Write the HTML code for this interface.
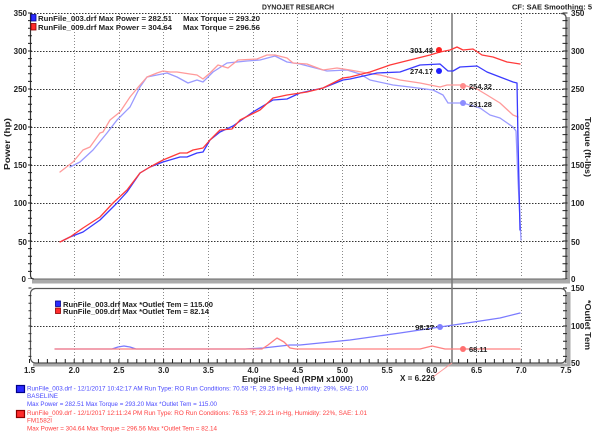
<!DOCTYPE html>
<html><head><meta charset="utf-8"><style>
html,body{margin:0;padding:0;background:#fff;}
svg{display:block;}
text{font-family:"Liberation Sans",Arial,sans-serif;}
.b{font-weight:bold;fill:#222;}
</style></head><body>
<svg width="600" height="433" viewBox="0 0 600 433" xmlns="http://www.w3.org/2000/svg">
<rect width="600" height="433" fill="#fff"/>

<!-- main vertical grid -->
<g stroke="#8a8a8a" stroke-width="1" stroke-dasharray="1,2" fill="none">
<line x1="74.5" y1="14" x2="74.5" y2="278"/>
<line x1="119.5" y1="14" x2="119.5" y2="278"/>
<line x1="163.5" y1="14" x2="163.5" y2="278"/>
<line x1="208.5" y1="14" x2="208.5" y2="278"/>
<line x1="253.5" y1="14" x2="253.5" y2="278"/>
<line x1="297.5" y1="14" x2="297.5" y2="278"/>
<line x1="342.5" y1="14" x2="342.5" y2="278"/>
<line x1="387.5" y1="14" x2="387.5" y2="278"/>
<line x1="431.5" y1="14" x2="431.5" y2="278"/>
<line x1="476.5" y1="14" x2="476.5" y2="278"/>
<line x1="521.5" y1="14" x2="521.5" y2="278"/>
<!-- lower grid -->
<line x1="74.5" y1="289" x2="74.5" y2="361"/>
<line x1="119.5" y1="289" x2="119.5" y2="361"/>
<line x1="163.5" y1="289" x2="163.5" y2="361"/>
<line x1="208.5" y1="289" x2="208.5" y2="361"/>
<line x1="253.5" y1="289" x2="253.5" y2="361"/>
<line x1="297.5" y1="289" x2="297.5" y2="361"/>
<line x1="342.5" y1="289" x2="342.5" y2="361"/>
<line x1="387.5" y1="289" x2="387.5" y2="361"/>
<line x1="431.5" y1="289" x2="431.5" y2="361"/>
<line x1="476.5" y1="289" x2="476.5" y2="361"/>
<line x1="521.5" y1="289" x2="521.5" y2="361"/>
</g>
<g stroke="#333" stroke-width="1" stroke-dasharray="1.5,1.5" fill="none">
<line x1="31" y1="51.5" x2="565" y2="51.5"/>
<line x1="31" y1="89.5" x2="565" y2="89.5"/>
<line x1="31" y1="127.5" x2="565" y2="127.5"/>
<line x1="31" y1="165.5" x2="565" y2="165.5"/>
<line x1="31" y1="203.5" x2="565" y2="203.5"/>
<line x1="31" y1="241.5" x2="565" y2="241.5"/>
<line x1="31" y1="326.5" x2="565" y2="326.5"/>
<line x1="31" y1="13.5" x2="561" y2="13.5"/>
</g>

<!-- main frame -->
<rect x="566" y="17" width="4" height="266" fill="#aaa"/>
<rect x="32" y="279.5" width="538" height="4" fill="#aaa"/>
<path d="M561,13.5 Q566,13.5 566,18 L566,279" stroke="#555" stroke-width="1.3" fill="none"/>
<line x1="34" y1="279" x2="566" y2="279" stroke="#666" stroke-width="1"/>
<path d="M30.5,13 L30.5,275 Q30.5,279 34,279" stroke="#333" stroke-width="1.2" fill="none"/>
<!-- axis ticks -->
<line x1="30" y1="12.5" x2="30" y2="279" stroke="#222" stroke-width="4" stroke-dasharray="1,6.6"/>
<line x1="565" y1="12.5" x2="565" y2="279" stroke="#222" stroke-width="5" stroke-dasharray="1,6.6"/>

<!-- lower frame -->
<rect x="567" y="292" width="3.5" height="74" fill="#aaa"/>
<rect x="33" y="363.5" width="537" height="3" fill="#aaa"/>
<rect x="30.5" y="288.5" width="535.5" height="74.5" rx="5" ry="5" stroke="#555" stroke-width="1.2" fill="none"/>
<line x1="29" y1="361" x2="567" y2="361" stroke="#222" stroke-width="4" stroke-dasharray="1,7.94"/>
<line x1="565" y1="287.5" x2="565" y2="363" stroke="#222" stroke-width="4" stroke-dasharray="1,6.6"/>
<line x1="30" y1="287.5" x2="30" y2="363" stroke="#333" stroke-width="3" stroke-dasharray="1,6.6"/>

<!-- cursor -->
<line x1="452" y1="13" x2="452" y2="363" stroke="#777" stroke-width="1.5"/>
<line x1="433" y1="377" x2="452" y2="363" stroke="#f99" stroke-width="1"/>

<!-- curves -->
<g fill="none" stroke-width="1.3" stroke-linejoin="round" stroke-linecap="round">
<polyline stroke="#9a9aff" points="70,167 80,162 93,150 107,133 117,120 130,107 140,87 147,77 157,75 167,73 177,77 188,83 197,80 203,82 213,72 227,63 247,61 260,60 275,56 287,62 300,64 327,71 347,70 360,74 370,80 393,85 410,87 433,90 443,95 448,103 463,103 480,108 490,115 500,118 513,127 516,131 518,180 521,240"/>
<polyline stroke="#ff9a9a" points="60,172 73,162 83,150 90,147 100,133 103,132 110,120 120,112 130,97 140,85 147,77 157,73 163,71 170,72 177,72 190,74 197,75 203,79 210,73 218,65 228,68 238,60 257,59 267,55 275,55 287,58 293,63 307,64 323,70 337,68 350,70 367,73 380,75 400,80 420,83 440,87 447,85 463,85 477,89 487,95 500,103 513,115 518,117"/>
<polyline stroke="#3a3aff" points="62,241 70,237 83,232 100,220 117,203 127,192 140,173 150,167 163,162 180,157 187,157 197,153 203,152 210,140 220,132 233,126 253,112 273,100 287,99 300,93 323,88 343,80 350,79 377,73 400,72 420,65 440,64 448,71 453,71 460,67 477,66 487,72 500,77 513,82 517,83 518,140 520,230"/>
<polyline stroke="#ff3a3a" points="60,242 70,237 83,228 100,217 113,203 127,190 140,173 150,167 163,160 180,153 187,153 193,150 203,148 210,140 220,130 232,129 240,120 260,110 273,98 287,95 307,92 323,88 343,78 350,77 370,72 390,65 410,60 430,55 440,52 450,50 457,47 463,50 473,49 482,55 493,57 507,62 520,64"/>
<!-- lower -->
<polyline stroke="#7a7aff" points="55,349 112,349 118,347 124,346 130,347 136,349 245,349 263,348 290,345 300,345 350,340 400,333 440,327 467,323 500,318 520,313"/>
<polyline stroke="#ff8080" points="55,349 262,349 268,345 277,338 284,342 290,348 296,349 420,349 432,346 445,349 520,349"/>
</g>

<!-- markers -->
<circle cx="439" cy="50" r="3" fill="#ff2020"/>
<circle cx="439" cy="71" r="3" fill="#2020ff"/>
<circle cx="463" cy="86" r="3" fill="#ff8c8c"/>
<circle cx="463" cy="103" r="3" fill="#8c8cff"/>
<circle cx="440" cy="327" r="3" fill="#8080ff"/>
<circle cx="463" cy="349" r="3" fill="#ff7070"/>
<g class="b" font-size="7.5">
<text x="433" y="53" text-anchor="end">301.48</text>
<text x="433" y="74" text-anchor="end">274.17</text>
<text x="469" y="89">254.32</text>
<text x="469" y="107">231.28</text>
<text x="434" y="330" text-anchor="end">98.27</text>
<text x="469" y="352">68.11</text>
</g>

<!-- titles -->
<text class="b" x="262" y="9.5" font-size="7.5" textLength="72" lengthAdjust="spacingAndGlyphs">DYNOJET RESEARCH</text>
<text class="b" x="512" y="9.5" font-size="7.5" textLength="80" lengthAdjust="spacingAndGlyphs">CF: SAE  Smoothing: 5</text>

<!-- top legend -->
<rect x="31" y="14.5" width="5" height="6.5" fill="#2b2bff" stroke="#00008a" stroke-width="0.8"/>
<rect x="31" y="23.5" width="5" height="6.5" fill="#ff2b2b" stroke="#8a0000" stroke-width="0.8"/>
<g class="b" font-size="7.5">
<text x="38" y="21" textLength="134" lengthAdjust="spacingAndGlyphs">RunFile_003.drf Max Power = 282.51</text>
<text x="183" y="21" textLength="77" lengthAdjust="spacingAndGlyphs">Max Torque = 293.20</text>
<text x="38" y="30" textLength="134" lengthAdjust="spacingAndGlyphs">RunFile_009.drf Max Power = 304.64</text>
<text x="183" y="30" textLength="77" lengthAdjust="spacingAndGlyphs">Max Torque = 296.56</text>
</g>

<!-- lower legend -->
<rect x="55.5" y="301" width="5" height="5.5" fill="#2b2bff" stroke="#00008a" stroke-width="0.8"/>
<rect x="55.5" y="308" width="5" height="5.5" fill="#ff2b2b" stroke="#8a0000" stroke-width="0.8"/>
<g class="b" font-size="7.2">
<text x="63" y="307" textLength="150" lengthAdjust="spacingAndGlyphs">RunFile_003.drf Max *Outlet Tem = 115.00</text>
<text x="63" y="314" textLength="146" lengthAdjust="spacingAndGlyphs">RunFile_009.drf Max *Outlet Tem = 82.14</text>
</g>

<!-- left tick labels -->
<g class="b" font-size="8" text-anchor="end">
<text x="27" y="16">350</text>
<text x="27" y="54">300</text>
<text x="27" y="92">250</text>
<text x="27" y="130">200</text>
<text x="27" y="168">150</text>
<text x="27" y="206">100</text>
<text x="27" y="245">50</text>
<text x="26" y="282">0</text>
</g>
<!-- right tick labels -->
<g class="b" font-size="8">
<text x="571" y="16">350</text>
<text x="571" y="54">300</text>
<text x="571" y="92">250</text>
<text x="571" y="130">200</text>
<text x="571" y="168">150</text>
<text x="571" y="206">100</text>
<text x="571" y="245">50</text>
<text x="571" y="282">0</text>
<text x="571" y="291">150</text>
<text x="571" y="329">100</text>
<text x="571" y="366">50</text>
</g>
<!-- x tick labels -->
<g class="b" font-size="8" text-anchor="middle">
<text x="29.5" y="373">1.5</text>
<text x="74.2" y="373">2.0</text>
<text x="118.9" y="373">2.5</text>
<text x="163.6" y="373">3.0</text>
<text x="208.3" y="373">3.5</text>
<text x="253" y="373">4.0</text>
<text x="297.7" y="373">4.5</text>
<text x="342.4" y="373">5.0</text>
<text x="387.1" y="373">5.5</text>
<text x="431.8" y="373">6.0</text>
<text x="476.5" y="373">6.5</text>
<text x="521.2" y="373">7.0</text>
<text x="565.9" y="373">7.5</text>
</g>
<text class="b" x="242" y="382" font-size="8.5" textLength="111" lengthAdjust="spacingAndGlyphs">Engine Speed (RPM x1000)</text>
<text class="b" x="400" y="381" font-size="8" textLength="35" lengthAdjust="spacingAndGlyphs">X = 6.226</text>

<!-- axis titles -->
<text class="b" font-size="8.5" transform="translate(10,170) rotate(-90)" textLength="52" lengthAdjust="spacingAndGlyphs">Power (hp)</text>
<text class="b" font-size="8.5" transform="translate(585,117) rotate(90)" textLength="60" lengthAdjust="spacingAndGlyphs">Torque (ft-lbs)</text>
<text class="b" font-size="8.5" transform="translate(585,300) rotate(90)" textLength="50" lengthAdjust="spacingAndGlyphs">*Outlet Tem</text>

<!-- bottom legend -->
<rect x="16.5" y="385.5" width="8" height="7" fill="#2b2bff" stroke="#00008a" stroke-width="1.2"/>
<rect x="16.5" y="410.5" width="8" height="7" fill="#ff2b2b" stroke="#8a0000" stroke-width="1.2"/>
<g font-size="6.2" fill="#4a4aff">
<text x="27" y="390.5" textLength="341" lengthAdjust="spacingAndGlyphs">RunFile_003.drf - 12/1/2017 10:42:17 AM  Run Type: RO  Run Conditions: 70.58 °F, 29.25 in-Hg,  Humidity: 29%, SAE: 1.00</text>
<text x="27" y="398" textLength="31" lengthAdjust="spacingAndGlyphs">BASELINE</text>
<text x="27" y="406" textLength="190" lengthAdjust="spacingAndGlyphs">Max Power = 282.51  Max Torque = 293.20  Max *Outlet Tem = 115.00</text>
</g>
<g font-size="6.2" fill="#ff4040">
<text x="27" y="415" textLength="340" lengthAdjust="spacingAndGlyphs">RunFile_009.drf - 12/1/2017 12:11:24 PM  Run Type: RO  Run Conditions: 76.53 °F, 29.21 in-Hg,  Humidity: 22%, SAE: 1.01</text>
<text x="27" y="422.5" textLength="25" lengthAdjust="spacingAndGlyphs">FM1582I</text>
<text x="27" y="430.5" textLength="190" lengthAdjust="spacingAndGlyphs">Max Power = 304.64  Max Torque = 296.56  Max *Outlet Tem = 82.14</text>
</g>
</svg>
</body></html>
